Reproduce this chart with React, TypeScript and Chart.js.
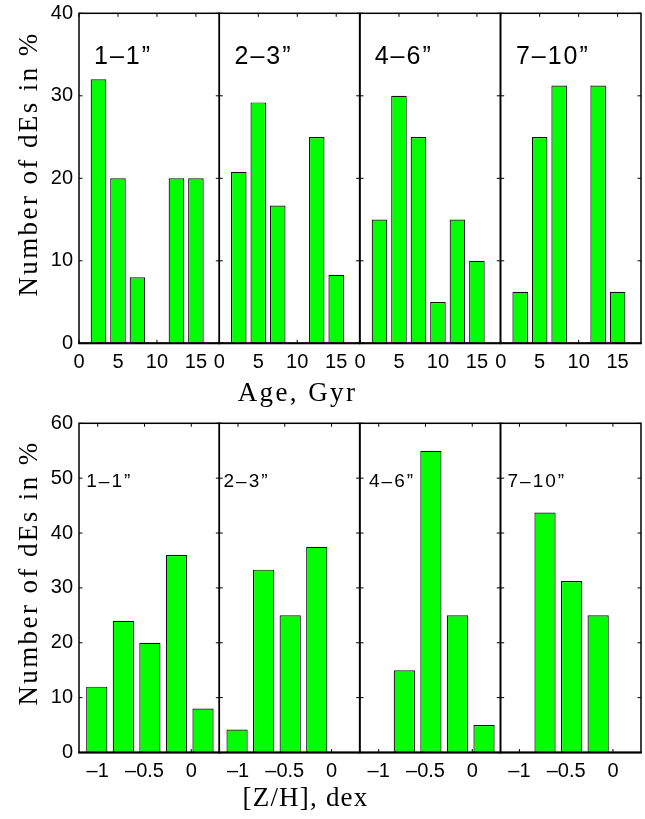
import React, { useEffect, useRef } from 'react';
import { Chart, registerables } from 'chart.js';

Chart.register(...registerables);

// ---------- data ----------
const panelLabels = ['1–1”', '2–3”', '4–6”', '7–10”'];

const ageBins = [2.5, 5, 7.5, 10, 12.5, 15];
const ageTicks = [0, 5, 10, 15];
const ageYTicks = [0, 10, 20, 30, 40];
const ageP1 = [32, 20, 8, 0, 20, 20];
const ageP2 = [20.8, 29.2, 16.7, 0, 25, 8.3];
const ageP3 = [15, 30, 25, 5, 15, 10];
const ageP4 = [6.25, 25, 31.25, 0, 31.25, 6.25];

const zhBins = [-1.01, -0.726, -0.442, -0.158, 0.126];
const zhTicks = [-1, -0.5, 0];
const zhYTicks = [0, 10, 20, 30, 40, 50, 60];
const zhP1 = [12, 24, 20, 36, 8];
const zhP2 = [4.17, 33.33, 25, 37.5, 0];
const zhP3 = [0, 15, 55, 25, 5];
const zhP4 = [0, 43.75, 31.25, 25, 0];

// ---------- layout ----------
const W = 645;
const H = 819;
const PANEL_LEFTS = [79, 219.3, 360, 500.7];
const PANEL_W = 140.3;
const YW = 40;
const XH = 30;
const TL = 3.5;
const SANS = '"Liberation Sans", Arial, Helvetica, sans-serif';
const SERIF = '"Liberation Serif", "Times New Roman", serif';

const fmt = (v: number) => (v < 0 ? '–' + String(Math.abs(v)) : String(v));

const framePlugin = {
  id: 'frameTicks',
  beforeDatasetsDraw(chart: any) {
    const { ctx, chartArea } = chart;
    const { left, right, top, bottom } = chartArea;
    const x = chart.scales.x;
    const y = chart.scales.y;
    ctx.save();
    ctx.strokeStyle = '#000';
    ctx.lineWidth = 1;
    ctx.beginPath();
    for (const t of x.ticks) {
      const px = x.getPixelForValue(t.value);
      ctx.moveTo(px, bottom);
      ctx.lineTo(px, bottom - TL);
      ctx.moveTo(px, top);
      ctx.lineTo(px, top + TL);
    }
    for (const t of y.ticks) {
      const py = y.getPixelForValue(t.value);
      ctx.moveTo(left, py);
      ctx.lineTo(left + TL, py);
      ctx.moveTo(right, py);
      ctx.lineTo(right - TL, py);
    }
    ctx.stroke();
    ctx.restore();
  },
  afterDatasetsDraw(chart: any) {
    const { ctx, chartArea } = chart;
    const { left, right, top, bottom } = chartArea;
    ctx.save();
    ctx.strokeStyle = '#000';
    ctx.lineWidth = 1.5;
    ctx.strokeRect(left, top, right - left, bottom - top);
    ctx.lineWidth = 2;
    ctx.beginPath();
    ctx.moveTo(left - 0.75, bottom);
    ctx.lineTo(right + 0.75, bottom);
    ctx.stroke();
    ctx.restore();
  },
};

type PanelSpec = {
  bins: number[];
  values: number[];
  xMin: number;
  xMax: number;
  xTicks: number[];
  yMax: number;
  yTicks: number[];
  panel: number;
  top: number;
  bottom: number;
};

const zeroPad = (s: any) => {
  s.paddingLeft = 0;
  s.paddingRight = 0;
  s.paddingTop = 0;
  s.paddingBottom = 0;
};

function makeConfig(p: PanelSpec): any {
  const left = PANEL_LEFTS[p.panel];
  return {
    type: 'bar',
    data: {
      datasets: [
        {
          data: p.bins.map((x, i) => ({ x, y: p.values[i] })),
          backgroundColor: '#00ff00',
          borderColor: '#111111',
          borderWidth: 1.2,
          barPercentage: 0.8,
          categoryPercentage: 1,
        },
      ],
    },
    options: {
      animation: false,
      responsive: false,
      devicePixelRatio: 1,
      events: [],
      layout: {
        autoPadding: false,
        padding: {
          left: left - YW,
          right: W - (left + PANEL_W),
          top: p.top,
          bottom: H - p.bottom - XH,
        },
      },
      plugins: { legend: { display: false }, tooltip: { enabled: false }, title: { display: false } },
      scales: {
        x: {
          type: 'linear',
          offset: false,
          min: p.xMin,
          max: p.xMax,
          afterBuildTicks: (s: any) => {
            s.ticks = p.xTicks.map((v) => ({ value: v }));
          },
          afterFit: (s: any) => {
            s.height = XH;
            zeroPad(s);
          },
          grid: { display: false, drawTicks: false, offset: false },
          border: { display: false },
          ticks: {
            autoSkip: false,
            maxRotation: 0,
            minRotation: 0,
            padding: 7,
            color: '#000',
            font: { family: SANS, size: 20 },
            callback: (v: number) => fmt(v),
          },
        },
        y: {
          type: 'linear',
          min: 0,
          max: p.yMax,
          afterBuildTicks: (s: any) => {
            s.ticks = p.yTicks.map((v) => ({ value: v }));
          },
          afterFit: (s: any) => {
            s.width = YW;
            zeroPad(s);
          },
          grid: { display: false, drawTicks: false },
          border: { display: false },
          ticks: {
            display: p.panel === 0,
            padding: 6,
            color: '#000',
            font: { family: SANS, size: 20 },
            callback: (v: number) => fmt(v),
          },
        },
      },
    },
    plugins: [framePlugin],
  };
}

const ROW1 = { top: 13.3, bottom: 343.3 };
const ROW2 = { top: 423.3, bottom: 752.5 };

const ageValues = [ageP1, ageP2, ageP3, ageP4];
const zhValues = [zhP1, zhP2, zhP3, zhP4];

const specs: PanelSpec[] = [
  ...ageValues.map((values, panel) => ({
    bins: ageBins,
    values,
    xMin: 0,
    xMax: 18,
    xTicks: ageTicks,
    yMax: 40,
    yTicks: ageYTicks,
    panel,
    ...ROW1,
  })),
  ...zhValues.map((values, panel) => ({
    bins: zhBins,
    values,
    xMin: -1.2,
    xMax: 0.3,
    xTicks: zhTicks,
    yMax: 60,
    yTicks: zhYTicks,
    panel,
    ...ROW2,
  })),
];

function PanelChart({ spec }: { spec: PanelSpec }) {
  const ref = useRef<HTMLCanvasElement | null>(null);
  useEffect(() => {
    if (!ref.current) return;
    const chart = new Chart(ref.current, makeConfig(spec));
    return () => chart.destroy();
  }, [spec]);
  return (
    <canvas
      ref={ref}
      width={W}
      height={H}
      style={{ position: 'absolute', left: 0, top: 0, width: W, height: H, pointerEvents: 'none' }}
    />
  );
}

const topLabelLefts = [94, 234.5, 374.7, 515.9];
const botLabelLefts = [86.3, 223.5, 369, 507.5];

export default function App() {
  const textBase: React.CSSProperties = {
    position: 'absolute',
    whiteSpace: 'nowrap',
    lineHeight: 1,
    color: '#000',
  };
  return (
    <div style={{ position: 'absolute', left: 0, top: 0, width: W, height: H, background: '#fff', overflow: 'hidden' }}>
      {specs.map((s, i) => (
        <PanelChart key={i} spec={s} />
      ))}
      {panelLabels.map((t, i) => (
        <div key={'t' + i} style={{ ...textBase, left: topLabelLefts[i], top: 43.1, fontFamily: SANS, fontSize: 25, letterSpacing: 2 }}>
          {t}
        </div>
      ))}
      {panelLabels.map((t, i) => (
        <div key={'b' + i} style={{ ...textBase, left: botLabelLefts[i], top: 470.6, fontFamily: SANS, fontSize: 19, letterSpacing: 2 }}>
          {t}
        </div>
      ))}
      <div style={{ ...textBase, left: 297.5, top: 379.4, transform: 'translateX(-50%)', fontFamily: SERIF, fontSize: 27, letterSpacing: 2.4 }}>
        Age, Gyr
      </div>
      <div style={{ ...textBase, left: 305.5, top: 784.4, transform: 'translateX(-50%)', fontFamily: SERIF, fontSize: 27, letterSpacing: 1.2 }}>
        [Z/H], dex
      </div>
      <div style={{ ...textBase, left: 27.5, top: 164, transform: 'translate(-50%, -50%) rotate(-90deg)', fontFamily: SERIF, fontSize: 27, letterSpacing: 2.4 }}>
        Number of dEs in %
      </div>
      <div style={{ ...textBase, left: 27.5, top: 573, transform: 'translate(-50%, -50%) rotate(-90deg)', fontFamily: SERIF, fontSize: 27, letterSpacing: 2.4 }}>
        Number of dEs in %
      </div>
    </div>
  );
}
